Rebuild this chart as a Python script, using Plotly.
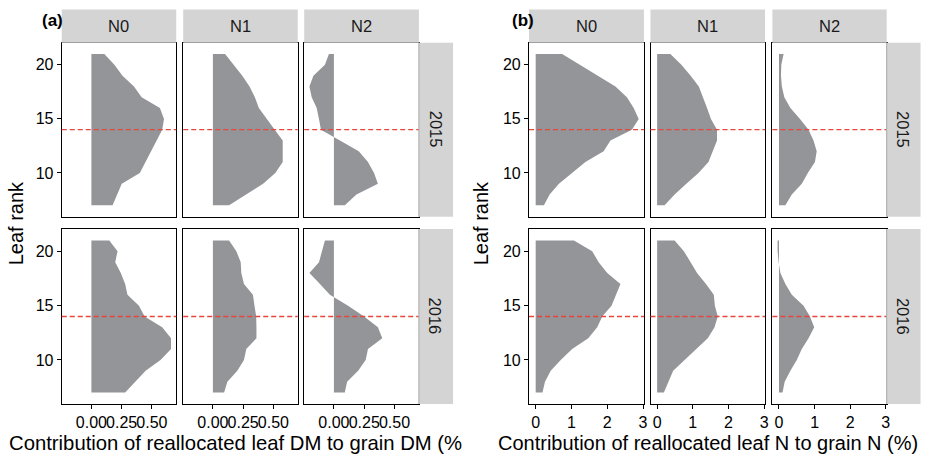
import plotly.graph_objects as go

# ---------------------------------------------------------------- data
leaf_rank = list(range(7, 22))          # leaf ranks 7 .. 21 (bottom to top)
treatments = ["N0", "N1", "N2"]
years = ["2015", "2016"]
reference_rank = 14

# (a) contribution of reallocated leaf DM to grain DM (%), leaf 7 -> 21
dm_2015_n0 = [0.175, 0.216, 0.251, 0.400, 0.448, 0.489, 0.544, 0.585, 0.600, 0.566, 0.415, 0.352, 0.257, 0.190, 0.107]
dm_2015_n1 = [0.134, 0.270, 0.415, 0.516, 0.577, 0.577, 0.577, 0.511, 0.448, 0.380, 0.347, 0.303, 0.243, 0.175, 0.101]
dm_2015_n2 = [0.090, 0.186, 0.363, 0.331, 0.281, 0.205, 0.050, -0.107, -0.123, -0.142, -0.183, -0.202, -0.169, -0.074, -0.041]
dm_2016_n0 = [0.279, 0.366, 0.448, 0.571, 0.658, 0.658, 0.585, 0.440, 0.393, 0.298, 0.279, 0.243, 0.197, 0.216, 0.148]
dm_2016_n1 = [0.093, 0.120, 0.202, 0.257, 0.276, 0.360, 0.360, 0.358, 0.344, 0.331, 0.257, 0.235, 0.230, 0.194, 0.134]
dm_2016_n2 = [0.090, 0.109, 0.200, 0.262, 0.281, 0.399, 0.363, 0.249, 0.117, -0.033, -0.115, -0.202, -0.123, -0.096, -0.074]

# (b) contribution of reallocated leaf N to grain N (%), leaf 7 -> 21
n_2015_n0 = [0.23, 0.39, 0.65, 1.02, 1.39, 1.90, 2.09, 2.69, 2.88, 2.74, 2.55, 2.23, 1.72, 1.21, 0.74]
n_2015_n1 = [0.21, 0.49, 0.82, 1.16, 1.44, 1.56, 1.68, 1.68, 1.51, 1.40, 1.28, 1.17, 0.94, 0.68, 0.37]
n_2015_n2 = [0.18, 0.36, 0.64, 0.81, 1.01, 1.06, 0.97, 0.83, 0.59, 0.32, 0.15, 0.08, 0.056, 0.065, 0.13]
n_2016_n0 = [0.19, 0.26, 0.42, 0.70, 1.02, 1.47, 1.72, 1.86, 2.12, 2.25, 2.37, 2.00, 1.76, 1.58, 1.07]
n_2016_n1 = [0.19, 0.31, 0.45, 0.77, 1.10, 1.42, 1.61, 1.70, 1.62, 1.59, 1.37, 1.12, 0.94, 0.75, 0.49]
n_2016_n2 = [0.10, 0.16, 0.32, 0.50, 0.64, 0.83, 0.99, 0.87, 0.69, 0.36, 0.18, 0.04, -0.01, -0.04, -0.04]

dm_ticks = [0, 0.25, 0.5]
dm_ticktext = ["0.00", "0.25", "0.50"]
n_ticks = [0, 1, 2, 3]
n_ticktext = ["0", "1", "2", "3"]
y_ticks = [10, 15, 20]

# ---------------------------------------------------------------- style
W, H = 934, 456
FONT = "Liberation Sans, Arial, sans-serif"
AREA = "#939598"
STRIP = "#D4D4D4"
DASH = "#E8453F"
TICK_SIZE = 16
STRIP_SIZE = 16.5
TITLE_SIZE = 20


def fx(x):
    return x / W


def fy(y):
    return 1 - y / H


def padded(values, frac=0.05):
    lo = min(0.0, min(values))
    hi = max(values)
    span = hi - lo
    return [lo - frac * span, hi + frac * span]


rows_px = [(42.7, 216.7), (229.0, 404.0)]
top_strip_px = (9.5, 42.7)
blocks = [
    dict(
        label="(a)", label_x=53, cols=[(62.0, 177.0), (184.0, 299.0), (305.5, 420.7)],
        right_strip=(420.7, 455.0),
        series=[[dm_2015_n0, dm_2015_n1, dm_2015_n2], [dm_2016_n0, dm_2016_n1, dm_2016_n2]],
        ticks=dm_ticks, ticktext=dm_ticktext,
        xtitle="Contribution of reallocated leaf DM to grain DM (%", xtitle_left=7.0,
        ytitle_x=16,
    ),
    dict(
        label="(b)", label_x=525.5, cols=[(531.3, 646.7), (653.3, 768.3), (775.7, 890.5)],
        right_strip=(890.5, 924.5),
        series=[[n_2015_n0, n_2015_n1, n_2015_n2], [n_2016_n0, n_2016_n1, n_2016_n2]],
        ticks=n_ticks, ticktext=n_ticktext,
        xtitle="Contribution of reallocated leaf N to grain N (%)", xtitle_left=None,
        ytitle_x=483,
    ),
]

fig = go.Figure()
layout = dict(
    width=W, height=H, margin=dict(l=0, r=0, t=0, b=0),
    paper_bgcolor="white", plot_bgcolor="white", showlegend=False,
    font=dict(family=FONT, color="black"),
)
shapes, annotations = [], []

k = 0
for b in blocks:
    all_vals = [v for row in b["series"] for s in row for v in s]
    xr = padded(all_vals)
    for r, (ry0, ry1) in enumerate(rows_px):
        for c, (cx0, cx1) in enumerate(b["cols"]):
            k += 1
            xa = "x" if k == 1 else f"x{k}"
            ya = "y" if k == 1 else f"y{k}"
            fig.add_trace(go.Scatter(
                x=b["series"][r][c], y=leaf_rank, xaxis=xa, yaxis=ya,
                mode="lines", line=dict(width=0, color=AREA),
                fill="tozerox", fillcolor=AREA, hoverinfo="skip",
            ))
            bottom = r == len(rows_px) - 1
            left = c == 0
            layout["xaxis" if k == 1 else f"xaxis{k}"] = dict(
                domain=[fx(cx0), fx(cx1)], range=xr, anchor=ya,
                showline=True, mirror=True, linecolor="black", linewidth=1.1,
                showgrid=False, zeroline=False,
                tickvals=b["ticks"], ticktext=b["ticktext"], tickangle=0,
                ticks="outside" if bottom else "", ticklen=4, tickwidth=1, tickcolor="black",
                showticklabels=bottom, tickfont=dict(size=TICK_SIZE, color="black", family=FONT),
            )
            layout["yaxis" if k == 1 else f"yaxis{k}"] = dict(
                domain=[fy(ry1), fy(ry0)], range=[5.95, 22.05], anchor=xa,
                showline=True, mirror=True, linecolor="black", linewidth=1.1,
                showgrid=False, zeroline=False, tickvals=y_ticks,
                ticks="outside" if left else "", ticklen=4, tickwidth=1, tickcolor="black",
                showticklabels=left, tickfont=dict(size=TICK_SIZE, color="black", family=FONT),
            )
            shapes.append(dict(
                type="line", xref=f"{xa} domain", yref=ya, x0=0, x1=1,
                y0=reference_rank, y1=reference_rank,
                line=dict(color=DASH, width=1.3, dash="5px,3px"), layer="above",
            ))
            if r == 0:
                shapes.append(dict(
                    type="rect", xref="paper", yref="paper",
                    x0=fx(cx0), x1=fx(cx1), y0=fy(top_strip_px[1]), y1=fy(top_strip_px[0]),
                    fillcolor=STRIP, line=dict(width=0), layer="above",
                ))
                annotations.append(dict(
                    text=treatments[c], xref="paper", yref="paper",
                    x=fx((cx0 + cx1) / 2), y=fy(sum(top_strip_px) / 2),
                    showarrow=False, font=dict(size=STRIP_SIZE, color="#1a1a1a"),
                    xanchor="center", yanchor="middle",
                ))
        sx0, sx1 = b["right_strip"]
        shapes.append(dict(
            type="rect", xref="paper", yref="paper",
            x0=fx(sx0), x1=fx(sx1), y0=fy(ry1), y1=fy(ry0),
            fillcolor=STRIP, line=dict(width=0), layer="above",
        ))
        shapes.append(dict(
            type="line", xref="paper", yref="paper",
            x0=fx(sx0), x1=fx(sx0), y0=fy(ry1), y1=fy(ry0),
            line=dict(color="#A8A8A8", width=1), layer="above",
        ))
        annotations.append(dict(
            text=years[r], xref="paper", yref="paper",
            x=fx((sx0 + sx1) / 2), y=fy((ry0 + ry1) / 2), textangle=90,
            showarrow=False, font=dict(size=STRIP_SIZE, color="#1a1a1a"),
            xanchor="center", yanchor="middle",
        ))
    # panel tag
    annotations.append(dict(
        text=f"<b>{b['label']}</b>", xref="paper", yref="paper",
        x=fx(b["label_x"]), y=fy(20), showarrow=False,
        font=dict(size=17, color="black"), xanchor="center", yanchor="middle",
    ))
    # axis titles
    cx_mid = (b["cols"][0][0] + b["cols"][-1][1]) / 2
    if b["xtitle_left"] is None:
        annotations.append(dict(
            text=b["xtitle"], xref="paper", yref="paper", x=fx(cx_mid), y=fy(443),
            showarrow=False, font=dict(size=TITLE_SIZE, color="black"),
            xanchor="center", yanchor="middle",
        ))
    else:
        annotations.append(dict(
            text=b["xtitle"], xref="paper", yref="paper", x=fx(b["xtitle_left"]), y=fy(443),
            showarrow=False, font=dict(size=TITLE_SIZE + 0.3, color="black"),
            xanchor="left", yanchor="middle",
        ))
    annotations.append(dict(
        text="Leaf rank", xref="paper", yref="paper",
        x=fx(b["ytitle_x"]), y=fy((rows_px[0][0] + rows_px[1][1]) / 2), textangle=-90,
        showarrow=False, font=dict(size=TITLE_SIZE, color="black"),
        xanchor="center", yanchor="middle",
    ))

layout["shapes"] = shapes
layout["annotations"] = annotations
fig.update_layout(**layout)
fig.write_html("out.html")
